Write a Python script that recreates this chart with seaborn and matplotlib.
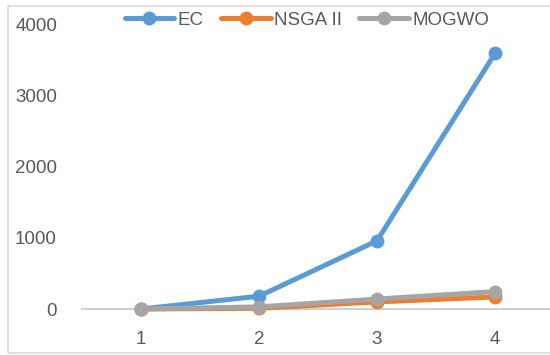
import matplotlib
matplotlib.use("Agg")
import matplotlib.pyplot as plt
import seaborn as sns
import pandas as pd
from matplotlib.patches import Rectangle

categories = [1, 2, 3, 4]
ec = [0, 180, 960, 3600]
nsga2 = [0, 10, 100, 170]
mogwo = [0, 30, 140, 245]
series_names = ["EC", "NSGA II", "MOGWO"]
colors = ["#5B9BD5", "#ED7D31", "#A5A5A5"]
y_ticks = [0, 1000, 2000, 3000, 4000]

df = pd.DataFrame({
    "x": categories * 3,
    "value": ec + nsga2 + mogwo,
    "series": [series_names[0]] * 4 + [series_names[1]] * 4 + [series_names[2]] * 4,
})

sns.set_theme(style="white")
plt.rcParams["font.family"] = ["Liberation Sans", "DejaVu Sans"]

fig = plt.figure(figsize=(5.5, 3.55), dpi=100)
ax = fig.add_axes([82 / 550, 1 - 309 / 355, 472 / 550, 284 / 355])

sns.lineplot(data=df, x="x", y="value", hue="series", hue_order=series_names,
             palette=colors, marker="o", markersize=10, linewidth=3.6,
             markeredgewidth=0, ax=ax, legend=True)
for line in ax.lines:
    line.set_clip_on(False)
    line.set_zorder(3)

ax.set_xlim(0.5, 4.5)
ax.set_ylim(0, 4000)
ax.set_xticks(categories)
ax.set_yticks(y_ticks)
ax.set_xlabel("")
ax.set_ylabel("")
for s in ["top", "right", "left"]:
    ax.spines[s].set_visible(False)
ax.spines["bottom"].set_visible(True)
ax.spines["bottom"].set_color("#D0D0D0")
ax.spines["bottom"].set_linewidth(1.5)
ax.spines["bottom"].set_zorder(1)
ax.tick_params(axis="both", length=0, labelsize=13.5, labelcolor="#595959")
ax.tick_params(axis="y", pad=18)
ax.tick_params(axis="x", pad=16)

handles, labels = ax.get_legend_handles_labels()
leg = ax.legend(handles, labels, loc="center", bbox_to_anchor=(307 / 550, 1 - 20 / 355),
                bbox_transform=fig.transFigure, ncol=3, frameon=False, fontsize=13.5,
                handlelength=2.65, handletextpad=0.2, columnspacing=0.9,
                labelcolor="#595959")

fig.patches.append(Rectangle((8 / 550, 2 / 355), 1.0, 1 - 8 / 355,
                             transform=fig.transFigure, fill=False,
                             edgecolor="#D9D9D9", linewidth=1.2))

fig.savefig("out.png", dpi=100)
